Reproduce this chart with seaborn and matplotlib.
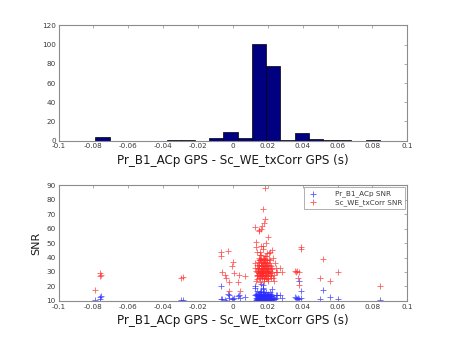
import numpy as np
import pandas as pd
import matplotlib
matplotlib.use("Agg")
import matplotlib.pyplot as plt
import seaborn as sns

# ---- histogram of timing offsets (20 equal bins) ----
bin_lo = -0.0788
bin_hi = 0.0843
hist_counts = [4, 0, 0, 0, 0, 1, 1, 0, 3, 9, 3, 101, 78, 1, 8, 2, 1, 1, 0, 1]

# ---- per-event offsets and SNR of both receivers ----
offset_s = [
    -0.0788, -0.0762, -0.0758, -0.0760, -0.0298, -0.0285,
    -0.0070, -0.0068, -0.0065, -0.0045, -0.0038, -0.0030, -0.0025, -0.0020,
    -0.0005, 0.0000, 0.0005, 0.0030, 0.0035, 0.0040, 0.0070,
    0.0185, 0.0170, 0.0183, 0.0178, 0.0168, 0.0125, 0.0150, 0.0162, 0.0148,
    0.0135, 0.0200, 0.0160, 0.0175, 0.0192, 0.0130, 0.0225, 0.0215, 0.0205,
    0.0140, 0.0125, 0.0232, 0.0240, 0.0245, 0.0250,
    0.0136, 0.0141, 0.0144, 0.0147, 0.0149, 0.0152, 0.0154, 0.0156, 0.0158, 0.0161,
    0.0163, 0.0166, 0.0168, 0.0171, 0.0173, 0.0176, 0.0178, 0.0181, 0.0183, 0.0186,
    0.0188, 0.0191, 0.0193, 0.0196, 0.0199, 0.0202, 0.0206, 0.0211, 0.0216, 0.0221,
    0.0132, 0.0138, 0.0143, 0.0146, 0.0150, 0.0153, 0.0155, 0.0159, 0.0160, 0.0164,
    0.0165, 0.0169, 0.0170, 0.0174, 0.0175, 0.0179, 0.0180, 0.0184, 0.0185, 0.0189,
    0.0190, 0.0194, 0.0195, 0.0197, 0.0201, 0.0204, 0.0208, 0.0213, 0.0218, 0.0228,
    0.0128, 0.0139, 0.0145, 0.0148, 0.0151, 0.0154, 0.0157, 0.0158, 0.0162, 0.0163,
    0.0167, 0.0168, 0.0172, 0.0173, 0.0177, 0.0178, 0.0182, 0.0183, 0.0187, 0.0188,
    0.0192, 0.0193, 0.0197, 0.0200, 0.0203, 0.0207, 0.0212, 0.0217, 0.0224, 0.0235,
    0.0131, 0.0137, 0.0142, 0.0147, 0.0151, 0.0153, 0.0156, 0.0159, 0.0161, 0.0164,
    0.0166, 0.0169, 0.0171, 0.0174, 0.0176, 0.0179, 0.0181, 0.0184, 0.0186, 0.0189,
    0.0191, 0.0194, 0.0196, 0.0199, 0.0203, 0.0209, 0.0214, 0.0219, 0.0226, 0.0238,
    0.0255, 0.0270, 0.0280,
    0.0355, 0.0362, 0.0368, 0.0375, 0.0378, 0.0382, 0.0388, 0.0393,
    0.0500, 0.0515, 0.0555, 0.0605, 0.0843,
]

snr_pr_b1 = [
    10.5, 12.5, 13.0, 11.5, 10.5, 10.5,
    20.0, 11.0, 11.0, 10.5, 10.2, 15.0, 14.0, 12.0,
    11.5, 11.0, 12.0, 13.0, 14.0, 12.0, 12.5,
    13, 15, 12, 14, 11, 19, 13, 16, 12,
    14, 11, 22, 21, 12, 15, 18, 16, 13,
    17, 20, 12, 11, 14, 12,
    11, 13, 10.5, 15, 12, 11, 14, 10.5, 12, 17,
    11, 13, 10.5, 12, 15, 11, 13, 10.5, 12, 14,
    11, 16, 10.5, 12, 13, 11, 14, 12, 10.5, 13,
    12, 10.5, 14, 11, 13, 12, 16, 10.5, 11, 13,
    12, 10.5, 14, 18, 11, 12, 10.5, 15, 13, 11,
    12, 10.5, 14, 11, 13, 12, 10.5, 11, 15, 12,
    14, 11, 10.5, 13, 12, 10.5, 11, 14, 12, 11,
    10.5, 13, 12, 11, 16, 10.5, 12, 13, 11, 10.5,
    12, 14, 11, 13, 10.5, 12, 11, 13, 12, 11,
    10.5, 12, 15, 11, 10.5, 13, 12, 11, 14, 10.5,
    12, 11, 13, 19, 12, 10.5, 11, 14, 12, 10.5,
    13, 11, 12, 15, 11, 10.5, 13, 12, 14, 11,
    14.0, 14.0, 12.0,
    12.5, 12.0, 11.5, 12.0, 11.0, 24.0, 17.0, 12.0,
    11.0, 17.5, 12.5, 11.5, 10.5,
]

snr_sc_we = [
    17.5, 29.0, 28.0, 27.0, 26.0, 26.5,
    44.0, 41.0, 30.0, 28.0, 26.0, 44.5, 23.0, 17.0,
    34.0, 37.0, 29.0, 23.0, 28.0, 17.0, 27.5,
    88.5, 74, 67, 64, 62, 61, 59, 60, 58.5,
    51, 54.5, 48, 48, 50, 47, 45, 44, 43,
    44, 33, 40, 36, 33, 30,
    28, 35, 31, 40, 26, 33, 38, 29, 42, 31,
    36, 27, 34, 39, 30, 25, 37, 32, 41, 28,
    35, 30, 38, 26, 33, 29, 36, 31, 27, 34,
    24, 30, 37, 33, 29, 44, 27, 35, 31, 38,
    28, 33, 46, 30, 36, 29, 40, 34, 27, 31,
    37, 33, 29, 43, 35, 24, 32, 38, 29, 26,
    36, 27, 32, 29, 35, 30, 26, 39, 33, 28,
    31, 37, 29, 34, 26, 39, 30, 36, 33, 28,
    41, 30, 34, 27, 31, 39, 28, 33, 30, 28,
    31, 25, 28, 34, 38, 23, 31, 27, 35, 42,
    30, 26, 33, 28, 32, 35, 24, 29, 38, 33,
    26, 31, 36, 30, 25, 29, 35, 26, 32, 24,
    30.0, 33.0, 30.0,
    31.0, 30.0, 30.5, 26.0, 21.0, 30.0, 46.0, 47.5,
    25.5, 39.0, 24.0, 30.0, 20.5,
]

x_ticks = [-0.1, -0.08, -0.06, -0.04, -0.02, 0, 0.02, 0.04, 0.06, 0.08, 0.1]
x_tick_labels = ["-0.1", "-0.08", "-0.06", "-0.04", "-0.02", "0",
                 "0.02", "0.04", "0.06", "0.08", "0.1"]
hist_y_ticks = [0, 20, 40, 60, 80, 100, 120]
snr_y_ticks = [10, 20, 30, 40, 50, 60, 70, 80, 90]

x_label = "Pr_B1_ACp GPS - Sc_WE_txCorr GPS (s)"

sns.set_style("white")
plt.rcParams["font.family"] = ["DejaVu Sans"]

frame_col = "#8c8c8c"
text_col = "#3a3a3a"
blue = "#2a2aff"
red = "#ff2a2a"

fig = plt.figure(figsize=(4.5, 3.38), dpi=100)
fig.patch.set_facecolor("white")
ax1 = fig.add_axes([0.13, 0.5838, 0.775, 0.3412])
ax2 = fig.add_axes([0.13, 0.11, 0.775, 0.3412])

# histogram: one weighted entry per bin centre
n_bins = len(hist_counts)
half_w = (bin_hi - bin_lo) / n_bins / 2
centers = np.linspace(bin_lo + half_w, bin_hi - half_w, n_bins)
hist_df = pd.DataFrame({"offset": centers, "count": hist_counts})
sns.histplot(data=hist_df, x="offset", weights="count", bins=n_bins,
             binrange=(bin_lo, bin_hi),
             color="#000080", edgecolor="black", linewidth=0.5, alpha=1.0,
             ax=ax1)
ax1.set_xlim(-0.1, 0.1)
ax1.set_ylim(0, 120)
ax1.set_yticks(hist_y_ticks)
ax1.set_ylabel("")

# scatter of SNR against offset
snr_df = pd.DataFrame({"offset": offset_s, "pr": snr_pr_b1, "sc": snr_sc_we})
sns.scatterplot(data=snr_df, x="offset", y="pr", marker="+", color=blue,
                s=24, linewidth=0.6, alpha=0.75, ax=ax2, label="Pr_B1_ACp SNR")
sns.scatterplot(data=snr_df, x="offset", y="sc", marker="+", color=red,
                s=24, linewidth=0.6, alpha=0.75, ax=ax2, label="Sc_WE_txCorr SNR")
ax2.set_xlim(-0.1, 0.1)
ax2.set_ylim(10, 90)
ax2.set_yticks(snr_y_ticks)
ax2.set_ylabel("SNR", fontsize=8, color="#1a1a1a")

leg = ax2.legend(loc="upper right", fontsize=5.2, frameon=True, fancybox=False,
                 borderpad=0.45, handletextpad=2.2, labelspacing=0.25,
                 borderaxespad=0.25, handlelength=1.6)
leg.get_frame().set_edgecolor(frame_col)
leg.get_frame().set_linewidth(0.6)
for h, c in zip(leg.legend_handles, (blue, red)):
    h.set_color(c)
    h.set_alpha(0.8)
for t in leg.get_texts():
    t.set_color(text_col)

for ax in (ax1, ax2):
    ax.set_xticks(x_ticks)
    ax.set_xticklabels(x_tick_labels)
    ax.set_xlabel(x_label, fontsize=8.6, color="#1a1a1a", labelpad=3)
    ax.tick_params(direction="in", length=2.5, width=0.5, colors=frame_col,
                   labelcolor=text_col, labelsize=5.2, pad=2,
                   top=True, right=True)
    for sp in ax.spines.values():
        sp.set_visible(True)
        sp.set_color(frame_col)
        sp.set_linewidth(0.8)
    ax.set_facecolor("white")

fig.savefig("out.png", dpi=100, facecolor="white")
